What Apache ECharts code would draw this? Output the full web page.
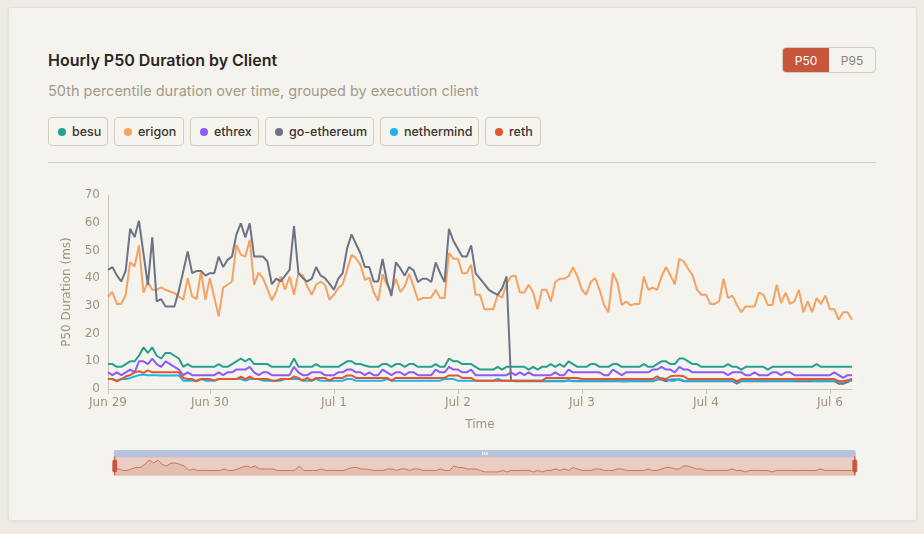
<!DOCTYPE html>
<html>
<head>
<meta charset="utf-8">
<script src="https://cdn.jsdelivr.net/npm/echarts@6/dist/echarts.min.js"></script>
<style>
  html, body { margin: 0; padding: 0; width: 924px; height: 534px; background: #edebe3; overflow: hidden; }
  body { position: relative; font-family: Inter, "Noto Sans", sans-serif; }
  .card { position: absolute; left: 8px; top: 7px; width: 907px; height: 512px; background: #f5f3ee;
          border: 1px solid #e4e0d5; border-radius: 3px; box-shadow: 0 1px 3px rgba(0,0,0,0.06); }
  .title { position: absolute; left: 48px; top: 50px; font-size: 16px; font-weight: 600; color: #2b2622; }
  .sub { position: absolute; left: 48px; top: 82px; font-size: 14.5px; color: #a39a8a; }
  .legend { position: absolute; left: 48px; top: 117px; display: flex; gap: 6px; }
  .legend div { height: 29px; box-sizing: border-box; border: 1px solid #d5ccb9; border-radius: 4px; padding: 0 0 0 9px;
                display: flex; align-items: center; font-size: 12.5px; font-weight: 500; color: #3a342e; background: #f6f4ef;
                white-space: nowrap; overflow: hidden; }
  .legend span { width: 8px; height: 8px; border-radius: 50%; display: inline-block; margin-right: 6px; flex: none; }
  .rule { position: absolute; left: 48px; top: 162px; width: 828px; height: 1px; background: #d8d1c2; }
  .toggle { position: absolute; left: 782px; top: 47px; width: 94px; height: 26px; box-sizing: border-box;
            border: 1px solid #d5ccb9; border-radius: 4px; display: flex; overflow: hidden; font-size: 12px; }
  .toggle div { flex: 1; display: flex; align-items: center; justify-content: center; color: #8d826f; }
  .toggle .on { background: #c8553d; color: #fff; }
  #chart { position: absolute; left: 0; top: 0; width: 924px; height: 534px; }
</style>
</head>
<body>
<div class="card"></div>
<div class="title">Hourly P50 Duration by Client</div>
<div class="sub">50th percentile duration over time, grouped by execution client</div>
<div class="toggle"><div class="on">P50</div><div>P95</div></div>
<div class="legend" id="legend"></div>
<div class="rule"></div>
<div id="chart"></div>
<script>
// x axis: date labels and the point index where each one sits
var tickLabels = ['Jun 29', 'Jun 30', 'Jul 1', 'Jul 2', 'Jul 3', 'Jul 4', 'Jul 6'];
var tickIndex = [0, 23, 51, 79, 107, 135, 163];
var pointCount = 169;

var clients = ['besu', 'erigon', 'ethrex', 'go-ethereum', 'nethermind', 'reth'];
var colors = ['#26a08f', '#f4a261', '#8b5cf6', '#6b7385', '#1bb5e6', '#e4572e'];
var chipWidths = [60, 70, 69, 109, 99, 56];

// p50 duration (ms), hourly
var besu = [9,9,8,8,9,10,10,12,15,13, 15,12,11,13,13,12,11,8,9,8, 8,8,8,8,8,9,8,8,9,10,
  11,10,11,9,9,9,9,8,8,8, 8,8,11,8,8,8,8,9,8,8, 8,8,8,9,10,10,9,9,8.5,8, 8,8,9,9,8,9,9,8,9,9,
  8,8,8,8,9,8,8,11,10,10, 9,9,9,8,7,7,7,7,8,7, 8,8,8,8,8,7,8,7,8,8, 9,8,9,8,10,9,8,8,8,9,
  9,8,8,8,9,9,8,8,8,8, 8,9,8,8,9,10,10,9,9,11, 11,10,9,9,8,8,8,8,8,8, 9,8,8,7,8,8,8,8,8,7,
  8,8,8,8,8,8,8,8,8,8, 9,8,8,8,8,8,8,8,8];
var erigon = [33.4,35,30.7,30.7,34,45.7,44.2,51.8,34.8,38.5, 35.8,35.8,36.7,35.8,35.2,34.6,33.4,32.2,40,33.4,
  32.4,42.4,32.2,40,33,26.2,36.7,37.6,38.8,52, 48.4,47.8,53.8,37.6,42,40,36,32,35.2,40.6,
  35.8,40.6,34,41.8,41,37,34,37.6,38.7,37.6, 32.2,34,36.4,37.8,43,48.4,47.2,44.8,39.4,40.2,
  35,31.8,41.4,37.6,35,39.8,35,37,41.5,37, 32,32.8,32.8,33,35.8,32.8,32.8,49,47,47,
  41.8,41.8,44.8,34,34,28.8,28.8,28.8,34,33, 38,40.6,40.9,34.8,34.8,37.6,34.8,28.8,35.8,35.8,
  31.6,38.6,39.8,39.8,40.6,44,40.6,35.8,34,38.6, 40,35.8,30.4,27.7,41.8,38.6,30.3,31.6,30.2,30.7,
  30.7,40.6,35.8,36.6,35.8,40.6,44,41,37.8,47, 46,43.4,41,35.8,34,34,30.7,30.7,31.6,39.8,
  32.8,33.7,30.4,27.7,29.8,29.8,29.8,34.8,34,30.3, 30.3,37.6,31,34.8,30.7,31.6,35.8,27.7,31.6,27.7,
  32.8,30.7,33.7,28.8,28.8,25,27.7,27.7,25];
var ethrex = [6,5,6,5,6,7,6,10,10,9, 11,9,8,10,9,8,7,5,6,5, 5,5,5,5,5,6,5,6,6,7, 7,7,8,6,5,6,6,5,5,5,
  5,5,8,6,5,5,6,6,6,5, 5,5,6,6,7,7,6,6,5,6, 5,5,7,6,5,6,6,5,6,6, 5,5,5,5,7,6,6,8,7,7,
  6,6,7,5,5,5,5,5,5,5, 5,6,5,6,5,6,5,5,5,5, 5,6,5,5,7,6,6,6,6,6, 6,6,5,5,7,6,5,6,6,6,
  6,6,6,7,7,8,7,7,6,8, 7,7,6,6,6,6,6,6,6,6, 5,6,6,6,5,5,6,5,5,5, 6,6,5,6,6,5,5,5,5,5,
  5,5,5,5,6,5,4,5,5];
var goEthereum = [43,44,41,38.8,42.6,57.8,54.8,60.7,49,37.6, 54.7,31.6,32.4,29.8,29.8,29.8,35.5,42.5,49.6,41.8,
  42.6,42.6,40.9,41.8,41.8,47.8,44,46.6,47.8,55.8, 59.8,54.7,59.8,47.8,47.8,47.8,46,37.8,39.8,38.8,
  40.9,43,58.8,41.8,40,38.8,39.8,44,41,40, 38,35.8,39.8,41.8,50.8,55.8,52.3,49,44,44,
  38.8,38.8,46.9,38.8,33.6,45.7,43.6,40.9,44,42.8, 38.6,39.8,39.8,38.6,45.7,41.8,38.6,57.8,53.4,50.6,
  47.8,47.8,51.8,41.8,39.8,37.8,35.8,34.8,34,36.4, 40.6,3,2.8,2.8,2.8,2.8,2.8,2.8,2.8,2.8,
  2.8,2.8,2.8,2.8,3.2,2.8,2.8,2.8,2.8,2.8, 2.8,2.8,2.8,2.8,2.8,2.8,2.8,2.8,2.8,2.8,
  2.8,2.8,2.8,2.8,3.4,3.4,2.8,3.4,3.4,3.4, 2.8,2.8,2.8,2.8,2.8,2.8,2.8,2.8,2.8,2.8,
  2.8,2.8,1.9,2.8,2.8,2.8,2.8,2.8,2.8,2.8, 2.8,2.8,2.8,2.8,2.8,2.8,2.8,2.8,2.8,2.8,
  2.8,2.8,2.8,2.8,2.8,1.9,1.9,2.5,3.4];
var nethermind = [3.6,3.6,3,3.6,3.6,4,4.5,5,5.2,5, 5,5,4.9,4.9,4.9,4.9,4.9,3,3,3, 3,3.6,3,3,3,3.6,3.6,3.6,3.6,3.6,
  3.6,3,3.6,3.6,3.6,3,3,3,3,3, 3.6,3.6,3.6,3.6,3,3,3,3.6,3,3, 3,3,3,3,3.6,3.6,3,3,3,3,
  3,3,3,3.6,3,3,3,3,3,3, 3,3,3,3,3,3,3.6,3.6,3.6,3, 3,3,3,3,3,3,3,3,3.6,3,
  3,3,3,3,3,3,3,3,3,3, 3,3,3,3,3,3,3,3,3,3, 3,3,3,3,3,3,2.8,2.8,3,3,
  3,3,3,3,3.6,4,3.6,3,3,3.6, 3,3,3,3,3,3,3,3,3,3, 3,3,2.6,3,3,3,3,3,3,3,
  3,3,3,3,3,3,3.6,3,3.6,3, 3,3,3,3,3,2.6,2.6,3,3];
var reth = [3.6,3.6,2.8,3.6,4.5,5,6,6.4,5.8,6.7, 6,6,6,6,6,6,6,4,3.6,3.6, 2.8,3.6,3.6,3.6,3,3.6,3.6,3.6,3.6,3.6,
  4.5,3.6,4.5,3.6,3.6,3.6,3.6,3,3,3.6, 3.6,3.6,4.5,4,3,4,3,4,4,4, 3,4,4,4,4.9,4.9,4,4,4,4,
  4,4,4,4,3,4,4,4,4,4, 4,4,4,4,4,4,4,4.9,4.9,4.9, 4,4,4,3,3,3,3,3,3,3,
  3,3,3,3,3,3,3,3,3,4, 4,4,4,4,4,4,4,3.6,3.6,3.6, 3.6,3.6,3.6,3.6,3.6,3.6,3.6,3.6,3.6,3.6,
  3.6,3.6,3.6,3.6,4.6,3.6,3.6,4.6,4.8,4.8, 4.6,3.6,3.6,3.6,3.6,3.6,3.6,3.6,3.6,3.6,
  3.6,3.6,2.8,3.6,3.6,3.6,3.6,3.6,3.6,3.6, 3.6,3.6,3.6,3.6,3.6,3.6,3.6,3.6,3.6,3.6,
  3.6,3.6,3.6,3.6,3.6,2.8,2.8,3.2,3.6];

var values = [besu, erigon, ethrex, goEthereum, nethermind, reth];

// category names: date of the last label plus hour offset
var categories = [];
for (var i = 0, k = 0; i < pointCount; i++) {
  if (k + 1 < tickIndex.length && i >= tickIndex[k + 1]) k++;
  categories.push(tickLabels[k] + ' +' + (i - tickIndex[k]) + 'h');
}
function isTick(idx) { return tickIndex.indexOf(idx) >= 0; }

// html legend
var legendEl = document.getElementById('legend');
clients.forEach(function (c, n) {
  var d = document.createElement('div');
  d.style.width = chipWidths[n] + 'px';
  d.innerHTML = '<span style="background:' + colors[n] + '"></span>' + c;
  legendEl.appendChild(d);
});

var chart = echarts.init(document.getElementById('chart'));
var axisText = '#a09280';
var option = {
  backgroundColor: 'transparent',
  animation: false,
  textStyle: { fontFamily: 'DejaVu Sans' },
  grid: { left: 108, right: 72, top: 195, bottom: 145, containLabel: false, outerBoundsMode: 'none' },
  xAxis: {
    type: 'category',
    data: categories,
    boundaryGap: false,
    name: 'Time',
    nameLocation: 'middle',
    nameGap: 30,
    nameTextStyle: { color: axisText, fontSize: 12, fontFamily: 'DejaVu Sans' },
    axisLine: { show: true, lineStyle: { color: '#cbc3b3' } },
    axisTick: { show: true, interval: isTick, length: 5, lineStyle: { color: '#cbc3b3' } },
    axisLabel: {
      interval: isTick, color: axisText, fontSize: 12, margin: 8, fontFamily: 'DejaVu Sans',
      formatter: function (v) { return v.split(' +')[0]; }
    },
    splitLine: { show: false }
  },
  yAxis: {
    type: 'value',
    min: 0, max: 70, interval: 10,
    name: 'P50 Duration (ms)',
    nameLocation: 'middle',
    nameGap: 35,
    nameTextStyle: { color: axisText, fontSize: 12, fontFamily: 'DejaVu Sans' },
    axisLine: { show: true, lineStyle: { color: '#cbc3b3' } },
    axisTick: { show: false },
    axisLabel: { color: axisText, fontSize: 12, margin: 8, fontFamily: 'DejaVu Sans' },
    splitLine: { show: false }
  },
  dataZoom: [
    { type: 'inside', xAxisIndex: 0, start: 0, end: 100 },
    {
      type: 'slider', xAxisIndex: 0, start: 0, end: 100,
      left: 111, right: 71, top: 450, height: 19,
      showDetail: false,
      borderColor: 'rgba(200,85,61,0.15)',
      backgroundColor: 'rgba(200,85,61,0.05)',
      fillerColor: 'rgba(200,85,61,0.2)',
      handleStyle: { color: '#c8553d', borderColor: '#c8553d' },
      moveHandleStyle: { color: '#b7c2dc', opacity: 1 },
      dataBackground: {
        lineStyle: { color: '#d07a62', width: 1, opacity: 1 },
        areaStyle: { color: 'rgba(200,85,61,0.12)', opacity: 1 }
      },
      selectedDataBackground: {
        lineStyle: { color: '#d07a62', width: 1, opacity: 1 },
        areaStyle: { color: 'rgba(200,85,61,0.12)', opacity: 1 }
      }
    }
  ],
  series: clients.map(function (c, n) {
    return {
      name: c,
      type: 'line',
      data: values[n],
      showSymbol: false,
      symbol: 'none',
      lineStyle: { width: 2, color: colors[n] },
      itemStyle: { color: colors[n] }
    };
  })
};
chart.setOption(option);
</script>
</body>
</html>
